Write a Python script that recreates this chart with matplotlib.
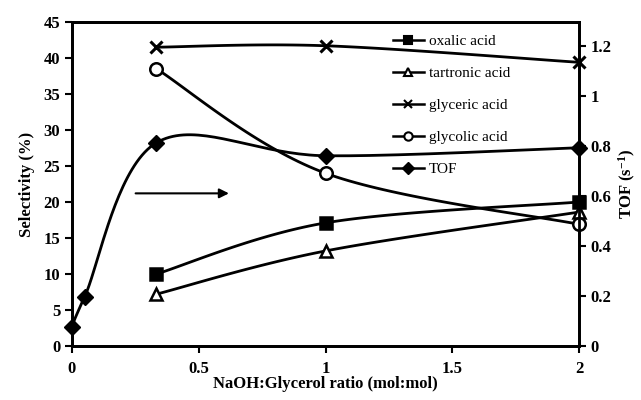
import numpy as np
import matplotlib
matplotlib.use('Agg')
import matplotlib.pyplot as plt
from matplotlib.lines import Line2D

plt.rcParams['font.family'] = ['Liberation Serif', 'DejaVu Serif']
plt.rcParams['mathtext.fontset'] = 'custom'
plt.rcParams['mathtext.rm'] = 'Liberation Serif:bold'
plt.rcParams['mathtext.it'] = 'Liberation Serif:bold'
plt.rcParams['mathtext.bf'] = 'Liberation Serif:bold'

# NaOH:glycerol ratio
ratio = [0.333, 1.0, 2.0]
ratio_tof = [0.0, 0.05, 0.333, 1.0, 2.0]

# selectivity (%)
oxalic = [10.0, 17.1, 20.0]
tartronic = [7.2, 13.2, 18.6]
glyceric = [41.5, 41.7, 39.4]
glycolic = [38.5, 24.0, 16.9]

# turnover frequency (s-1)
tof = [0.077, 0.197, 0.813, 0.761, 0.793]

XMAX = 2.0
YMAX = 45.0
Y2MAX = 1.296
AX_W, AX_H = 507.0, 324.0


def smooth(xs, ys, ymax, n=40):
    # Bezier smoothing through the points, done in pixel space
    px = np.asarray(xs) / XMAX * AX_W
    py = np.asarray(ys) / ymax * AX_H
    pts = np.column_stack([px, py])
    if len(pts) < 3:
        return np.asarray(xs), np.asarray(ys)
    out = [pts[0]]
    for i in range(len(pts) - 1):
        p0 = pts[i - 1] if i > 0 else pts[i]
        p1 = pts[i]
        p2 = pts[i + 1]
        p3 = pts[i + 2] if i + 2 < len(pts) else pts[i + 1]
        c1 = p1 + (p2 - p0) / 6.0
        c2 = p2 - (p3 - p1) / 6.0
        t = np.linspace(0, 1, n)[1:, None]
        seg = ((1 - t) ** 3 * p1 + 3 * (1 - t) ** 2 * t * c1
               + 3 * (1 - t) * t ** 2 * c2 + t ** 3 * p2)
        out.extend(seg)
    out = np.array(out)
    return out[:, 0] / AX_W * XMAX, out[:, 1] / AX_H * ymax


fig = plt.figure(figsize=(6.41, 4.0), dpi=100)
ax = fig.add_axes([72 / 641, 54 / 400, 507 / 641, 324 / 400])
ax2 = ax.twinx()

lw = 2.0
series = [
    (oxalic, 's', 'black', 9, 'oxalic acid'),
    (tartronic, '^', 'white', 8, 'tartronic acid'),
    (glyceric, 'x', 'black', 9, 'glyceric acid'),
    (glycolic, 'o', 'white', 9, 'glycolic acid'),
]
handles = []
for vals, mk, fc, ms, name in series:
    sx, sy = smooth(ratio, vals, YMAX)
    ax.plot(sx, sy, color='black', lw=lw, zorder=2, clip_on=False)
    ax.plot(ratio, vals, ls='none', marker=mk, ms=ms, mfc=fc, mec='black',
            mew=2.2 if mk == 'x' else 1.8, zorder=3, clip_on=False)
    handles.append(Line2D([], [], color='black', lw=1.8, marker=mk, ms=6,
                          mfc=fc, mec='black', mew=1.5, label=name))

sx, sy = smooth(ratio_tof, tof, Y2MAX)
ax2.plot(sx, sy, color='black', lw=lw, zorder=2, clip_on=False)
ax2.plot(ratio_tof, tof, ls='none', marker='D', ms=8, mfc='black', mec='black',
         zorder=3, clip_on=False)
handles.append(Line2D([], [], color='black', lw=1.8, marker='D', ms=6,
                      mfc='black', mec='black', label='TOF'))

# arrow pointing to the TOF axis
ax.annotate('', xy=(0.63, 21.2), xytext=(0.24, 21.2),
            arrowprops=dict(arrowstyle='-|>', color='black', lw=1.5,
                            mutation_scale=14))

ax.set_xlim(0, XMAX)
ax.set_ylim(0, YMAX)
ax2.set_ylim(0, Y2MAX)
ax.set_xticks([0, 0.5, 1, 1.5, 2])
ax.set_xticklabels(['0', '0.5', '1', '1.5', '2'])
ax.set_yticks(range(0, 46, 5))
ax2.set_yticks([0, 0.2, 0.4, 0.6, 0.8, 1.0, 1.2])
ax2.set_yticklabels(['0', '0.2', '0.4', '0.6', '0.8', '1', '1.2'])

for a in (ax, ax2):
    for sp in a.spines.values():
        sp.set_linewidth(2)
    a.tick_params(width=1.5, length=5, direction='out', labelsize=12)
    for lab in a.get_xticklabels() + a.get_yticklabels():
        lab.set_fontweight('bold')
ax.tick_params(axis='x', pad=6)

ax.set_xlabel('NaOH:Glycerol ratio (mol:mol)', fontsize=12, fontweight='bold', labelpad=-1)
ax.set_ylabel('Selectivity (%)', fontsize=12, fontweight='bold', labelpad=6)
ax2.set_ylabel(r'TOF (s$^{-1}$)', fontsize=12, fontweight='bold', labelpad=4)

ax.legend(handles=handles, loc='upper left', bbox_to_anchor=(321 / 507, 0.962),
          frameon=False, fontsize=11, handlelength=2.0, handletextpad=0.35,
          labelspacing=1.2, borderaxespad=0, borderpad=0)

fig.savefig('out.png', dpi=100)
